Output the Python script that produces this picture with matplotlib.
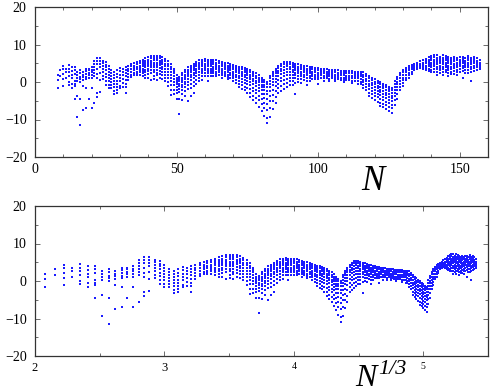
import numpy as np
import matplotlib
matplotlib.use("Agg")
import matplotlib.pyplot as plt
from matplotlib.ticker import MultipleLocator

# ---- data: per neutron number N, the values read in that column ----
N_cols = list(range(8, 158))
E_cols = [
    [1.8, 0.5, -1.6],                                   # 8
    [3.3, 1.6],                                          # 9
    [4.4, 3.6, 2.2, 0.8, -1.1],                          # 10
    [3.6, 2.8, 1.2],                                     # 11
    [4.5, 3.6, 2.6, 1.7, 0.1, -0.9],                     # 12
    [3.9, 2.9, 1.9, 1.0, -0.5, -1.6],                    # 13
    [4.0, 3.2, 2.2, 0.3, -0.6, -1.1, -4.4],              # 14
    [2.8, 2.0, 1.0, 0.2, -3.7, -9.3],                    # 15
    [3.1, 2.4, 1.4, 0.7, 0.1, -4.4, -11.5],              # 16
    [2.8, 2.0, 1.3, 0.6, -1.0, -7.4],                    # 17
    [3.6, 2.9, 2.2, 1.4, 0.9, -1.6, -6.8],               # 18
    [3.6, 3.1, 2.5, 1.8, 1.0, -4.6],                     # 19
    [3.9, 3.3, 2.7, 1.9, 1.2, -1.5, -6.9],               # 20
    [5.5, 4.7, 4.0, 3.2, 2.4, 1.7, -5.6],                # 21
    [6.4, 5.6, 4.7, 3.5, 2.1, 1.0, -2.8, -4.0],          # 22
    [6.4, 5.6, 4.8, 4.0, 2.4, 0.5, -2.6],                # 23
    [5.7, 5.2, 4.4, 3.5, 2.6, 1.5, 0.8],                 # 24
    [5.3, 4.6, 3.9, 3.1, 2.2, 1.3, 0.3, -0.9],           # 25
    [4.3, 3.6, 2.8, 1.8, 1.0, 0.2, -0.9, -1.6],          # 26
    [3.1, 2.3, 1.5, 0.9, 0.1, -0.7, -1.5],               # 27
    [2.7, 1.9, 1.2, 0.4, -0.6, -1.4, -2.3, -3.1],        # 28
    [3.1, 2.2, 1.4, 0.4, -0.4, -1.2, -2.0, -2.9],        # 29
    [3.7, 2.9, 2.0, 1.2, 0.3, -1.0, -1.5],               # 30
    [3.6, 2.8, 1.8, 0.8, -0.2, -1.4],                    # 31
    [4.0, 3.2, 2.5, 1.6, 0.5, -0.5, -1.2, -2.8],         # 32
    [4.3, 3.6, 2.9, 2.2, 1.4, 0.6],                      # 33
    [4.9, 4.2, 3.5, 2.8, 2.0, 1.3],                      # 34
    [5.1, 4.4, 3.8, 3.2, 2.5, 1.8],                      # 35
    [5.3, 4.7, 4.0, 3.4, 2.8, 2.2, 1.8],                 # 36
    [5.6, 5.0, 4.4, 3.8, 3.2, 2.6, 2.0],                 # 37
    [6.0, 5.4, 4.8, 4.2, 3.6, 3.0, 2.4, 1.6],            # 38
    [6.3, 5.7, 5.1, 4.5, 3.9, 3.3, 2.7, 2.0, 1.2],       # 39
    [6.6, 6.0, 5.4, 4.8, 4.2, 3.6, 3.0, 2.2, 1.0],       # 40
    [6.9, 6.3, 5.7, 5.1, 4.5, 3.9, 3.2, 2.4, 0.5],       # 41
    [7.0, 6.4, 5.8, 5.2, 4.6, 4.0, 3.3, 2.6, 1.6, 0.9],  # 42
    [7.0, 6.4, 5.8, 5.2, 4.6, 4.0, 3.3, 2.5, 1.8, 0.6],  # 43
    [6.9, 6.3, 5.7, 5.1, 4.5, 3.8, 3.0, 2.2, 1.2],       # 44
    [6.6, 6.0, 5.4, 4.8, 4.1, 3.4, 2.6, 1.8, 0.8],       # 45
    [6.1, 5.5, 4.9, 4.2, 3.5, 2.8, 2.0, 1.2, 0.2],       # 46
    [5.5, 4.9, 4.2, 3.5, 2.7, 1.9, 1.0, 0.0, -1.0],      # 47
    [4.7, 4.1, 3.4, 2.7, 1.9, 1.1, 0.2, -0.8, -2.0, -3.4],  # 48
    [3.6, 3.0, 2.3, 1.6, 0.8, 0.0, -0.9, -2.2, -3.3],    # 49
    [1.8, 1.2, 0.6, 0.0, -0.6, -1.3, -2.0, -3.0, -4.4],  # 50
    [1.4, 0.8, 0.2, -0.4, -1.1, -1.9, -2.6, -4.6, -8.4], # 51
    [2.4, 1.8, 1.2, 0.6, 0.0, -0.7, -1.4, -2.2, -3.2, -4.8],  # 52
    [3.2, 2.6, 2.0, 1.4, 0.8, 0.1, -0.6, -1.4, -2.4, -3.6],   # 53
    [3.9, 3.3, 2.7, 2.1, 1.5, 0.8, 0.0, -0.9, -1.9, -5.0],    # 54
    [4.4, 3.8, 3.2, 2.6, 2.0, 1.3, 0.5, -0.4, -1.6, -3.8],    # 55
    [4.9, 4.3, 3.7, 3.1, 2.5, 1.8, 1.0, 0.1, -1.0, -2.8],     # 56
    [5.4, 4.8, 4.2, 3.6, 3.0, 2.3, 1.5, 0.6, -0.5],      # 57
    [5.8, 5.2, 4.6, 4.0, 3.4, 2.7, 2.0, 1.2, 0.2],       # 58
    [6.0, 5.4, 4.8, 4.2, 3.6, 3.0, 2.3, 1.5, 0.5],       # 59
    [6.1, 5.5, 4.9, 4.3, 3.7, 3.1, 2.4, 1.6],            # 60
    [6.0, 5.4, 4.8, 4.2, 3.6, 3.0, 2.3, 1.5, 0.4],       # 61
    [6.0, 5.4, 4.8, 4.2, 3.6, 3.0, 2.4, 1.7],            # 62
    [5.9, 5.3, 4.7, 4.1, 3.5, 2.9, 2.3, 1.6],            # 63
    [5.8, 5.2, 4.6, 4.0, 3.4, 2.8, 2.2, 1.6],            # 64
    [5.6, 5.0, 4.4, 3.8, 3.2, 2.6, 2.0],                 # 65
    [5.4, 4.8, 4.2, 3.6, 3.0, 2.4, 1.8, 1.2],            # 66
    [5.2, 4.6, 4.0, 3.4, 2.8, 2.2, 1.6],                 # 67
    [5.0, 4.4, 3.8, 3.2, 2.6, 2.0, 1.4, 0.8],            # 68
    [4.9, 4.3, 3.7, 3.1, 2.5, 1.9, 1.2],                 # 69
    [4.6, 4.0, 3.4, 2.8, 2.2, 1.6, 1.0, 0.2],            # 70
    [4.4, 3.8, 3.2, 2.6, 2.0, 1.3, 0.6, -0.2],           # 71
    [4.1, 3.5, 2.9, 2.3, 1.7, 1.0, 0.3, -0.6, -1.2],     # 72
    [4.0, 3.4, 2.8, 2.2, 1.5, 0.8, 0.0, -0.9, -1.8],     # 73
    [3.8, 3.2, 2.6, 2.0, 1.3, 0.6, -0.2, -1.2, -2.2],    # 74
    [3.6, 3.0, 2.4, 1.8, 1.1, 0.4, -0.5, -1.5, -2.8],    # 75
    [3.2, 2.6, 2.0, 1.4, 0.7, 0.0, -0.8, -1.8, -3.0, -3.9],   # 76
    [2.8, 2.2, 1.6, 0.9, 0.2, -0.6, -1.5, -2.5, -3.6, -4.8],  # 77
    [2.3, 1.7, 1.1, 0.4, -0.3, -1.1, -2.0, -3.0, -4.2, -5.6], # 78
    [1.8, 1.2, 0.6, -0.1, -0.8, -1.6, -2.5, -3.6, -4.9, -6.6],# 79
    [1.2, 0.6, 0.0, -0.7, -1.4, -2.2, -3.2, -4.4, -5.8, -7.6],# 80
    [0.6, 0.0, -0.7, -1.4, -2.2, -3.1, -4.2, -5.5, -7.0, -9.0],   # 81
    [0.1, -0.6, -1.4, -2.3, -3.3, -4.5, -5.9, -7.5, -9.5, -11.0], # 82
    [1.6, 1.0, 0.3, -0.5, -1.4, -2.4, -3.6, -5.0, -6.8, -9.2],    # 83
    [2.8, 2.2, 1.5, 0.8, 0.0, -0.9, -2.0, -3.4, -5.0, -7.2],      # 84
    [3.6, 3.0, 2.3, 1.6, 0.8, -0.1, -1.1, -2.4, -4.0, -5.6],      # 85
    [4.3, 3.7, 3.0, 2.3, 1.5, 0.6, -0.4, -1.6, -3.0],    # 86
    [4.9, 4.3, 3.6, 2.9, 2.1, 1.2, 0.2, -1.0, -2.4],     # 87
    [5.3, 4.7, 4.0, 3.3, 2.5, 1.6, 0.6, -0.5, -1.8],     # 88
    [5.4, 4.8, 4.2, 3.5, 2.7, 1.8, 0.8, -0.2, -1.3],     # 89
    [5.3, 4.7, 4.1, 3.5, 2.8, 2.0, 1.1, 0.2, -0.9],      # 90
    [5.1, 4.5, 3.9, 3.3, 2.6, 1.9, 1.1, 0.2, -0.8],      # 91
    [4.9, 4.3, 3.7, 3.1, 2.5, 1.8, 1.0, -0.2, -3.2],     # 92
    [4.7, 4.1, 3.5, 2.9, 2.3, 1.6, 0.9, -0.1],           # 93
    [4.6, 4.0, 3.4, 2.8, 2.2, 1.5, 0.7, -0.3],           # 94
    [4.4, 3.8, 3.2, 2.6, 2.0, 1.3, 0.5],                 # 95
    [4.2, 3.6, 3.0, 2.4, 1.8, 1.2, 0.4, -0.8],           # 96
    [4.1, 3.5, 2.9, 2.3, 1.7, 1.0, 0.2],                 # 97
    [4.0, 3.4, 2.8, 2.2, 1.6, 0.9],                      # 98
    [3.8, 3.2, 2.6, 2.0, 1.4, 0.8],                      # 99
    [3.7, 3.1, 2.5, 1.9, 1.3, 0.7, -0.4],                # 100
    [3.6, 3.0, 2.4, 1.8, 1.2],                           # 101
    [3.5, 2.9, 2.3, 1.7, 1.1, 0.4],                      # 102
    [3.4, 2.8, 2.2, 1.6, 1.0],                           # 103
    [3.3, 2.7, 2.1, 1.5, 0.9, 0.2],                      # 104
    [3.3, 2.7, 2.1, 1.5, 1.0],                           # 105
    [3.2, 2.6, 2.0, 1.4, 0.8, 0.2],                      # 106
    [3.1, 2.5, 1.9, 1.3, 0.7],                           # 107
    [3.0, 2.4, 1.8, 1.2, 0.6],                           # 108
    [3.0, 2.4, 1.8, 1.2, 0.6, 0.0],                      # 109
    [2.9, 2.3, 1.7, 1.1, 0.5],                           # 110
    [2.9, 2.3, 1.7, 1.1, 0.5],                           # 111
    [2.9, 2.3, 1.7, 1.1, 0.4, -0.2],                     # 112
    [2.8, 2.2, 1.6, 1.0, 0.3],                           # 113
    [2.8, 2.2, 1.6, 1.0, 0.3, -0.4],                     # 114
    [2.8, 2.2, 1.5, 0.8, 0.1, -0.6],                     # 115
    [2.6, 2.0, 1.3, 0.6, -0.1, -0.9, -1.6],              # 116
    [2.2, 1.6, 0.9, 0.2, -0.5, -1.3, -2.1],              # 117
    [1.6, 1.0, 0.3, -0.4, -1.1, -1.9, -2.8, -3.6],       # 118
    [1.1, 0.5, -0.2, -0.9, -1.6, -2.4, -3.3, -4.3],      # 119
    [0.7, 0.1, -0.6, -1.3, -2.0, -2.8, -3.7, -4.7],      # 120
    [0.3, -0.3, -1.0, -1.7, -2.4, -3.2, -4.1, -5.2],     # 121
    [0.0, -0.6, -1.3, -2.0, -2.7, -3.5, -4.4, -5.5, -6.3],   # 122
    [-0.4, -1.0, -1.7, -2.4, -3.1, -3.9, -4.8, -5.8, -6.6],  # 123
    [-0.8, -1.4, -2.1, -2.8, -3.5, -4.3, -5.2, -6.2, -7.3],  # 124
    [-1.2, -1.8, -2.5, -3.2, -3.9, -4.7, -5.6, -6.6, -7.7],  # 125
    [-1.6, -2.2, -2.9, -3.6, -4.3, -5.1, -6.0, -7.0, -8.2],  # 126
    [0.2, -0.5, -1.2, -2.0, -2.8, -3.7, -4.7, -6.0],     # 127
    [1.4, 0.8, 0.1, -0.6, -1.4, -2.2, -3.2, -4.4],       # 128
    [2.4, 1.8, 1.1, 0.4, -0.4, -1.2, -2.2],              # 129
    [3.2, 2.6, 1.9, 1.2, 0.5, -0.3, -1.1],               # 130
    [3.8, 3.2, 2.6, 1.9, 1.2, 0.5],                      # 131
    [4.3, 3.7, 3.1, 2.5, 1.8, 1.1],                      # 132
    [4.6, 4.0, 3.4, 2.8, 2.2],                           # 133
    [4.9, 4.3, 3.7, 3.1],                                # 134
    [5.2, 4.6, 4.0, 3.4],                                # 135
    [5.5, 4.9, 4.3, 3.7],                                # 136
    [5.8, 5.2, 4.6, 4.0, 3.4],                           # 137
    [6.2, 5.6, 5.0, 4.4, 3.8, 3.2],                      # 138
    [6.6, 6.0, 5.4, 4.8, 4.2, 3.6, 3.0],                 # 139
    [7.0, 6.4, 5.8, 5.2, 4.6, 4.0, 3.3, 2.6],            # 140
    [7.2, 6.6, 6.0, 5.4, 4.8, 4.2, 3.5, 2.8],            # 141
    [7.1, 6.5, 5.9, 5.3, 4.7, 4.1, 3.4, 2.6, 1.8],       # 142
    [6.8, 6.2, 5.6, 5.0, 4.4, 3.8, 3.2, 2.5],            # 143
    [7.1, 6.5, 5.9, 5.3, 4.7, 4.1, 3.5, 2.8, 2.0],       # 144
    [7.0, 6.4, 5.8, 5.2, 4.6, 4.0, 3.3, 2.6],            # 145
    [6.8, 6.2, 5.6, 5.0, 4.4, 3.8, 3.2, 2.4, 1.6],       # 146
    [6.5, 5.9, 5.3, 4.7, 4.1, 3.5, 2.8, 2.1],            # 147
    [6.7, 6.1, 5.5, 4.9, 4.3, 3.7, 3.0, 2.2],            # 148
    [6.4, 5.8, 5.2, 4.6, 4.0, 3.3, 2.6, 1.8],            # 149
    [6.6, 6.0, 5.4, 4.8, 4.2, 3.5, 2.8],                 # 150
    [6.8, 6.2, 5.6, 5.0, 4.4, 3.7, 3.0, 1.2],            # 151
    [6.3, 5.7, 5.1, 4.5, 3.9, 3.2, 2.5],                 # 152
    [7.0, 6.4, 5.8, 5.2, 4.6, 3.9, 3.2, 2.4],            # 153
    [6.5, 5.9, 5.3, 4.7, 4.1, 3.4, 2.7, 0.4],            # 154
    [6.8, 6.2, 5.6, 5.0, 4.4, 3.7, 3.0],                 # 155
    [6.3, 5.7, 5.1, 4.5, 3.9, 3.2],                      # 156
    [5.8, 5.2, 4.6, 4.0, 3.4],                           # 157
]

top_xticks = [0, 50, 100, 150]
bot_xticks = [2, 3, 4, 5]
yticks = [-20, -10, 0, 10, 20]

N_all = np.concatenate([[n] * len(e) for n, e in zip(N_cols, E_cols)]).astype(float)
E_all = np.concatenate([np.asarray(e, float) for e in E_cols])
X_cbrt = np.cbrt(N_all + 1.0)

plt.rcParams['font.family'] = ['Liberation Serif', 'DejaVu Serif']

W, H = 491, 392
fig = plt.figure(figsize=(W / 100, H / 100), dpi=100)

def axes_px(l, t, r, b):
    return fig.add_axes([l / W, 1 - b / H, (r - l) / W, (b - t) / H])

ax1 = axes_px(35, 7, 488, 157)
ax2 = axes_px(35, 206, 488, 356)

mk = dict(marker='s', linestyle='none', markersize=1.45, markeredgewidth=0,
          color='#1a1aff')
ax1.plot(N_all, E_all, **mk)
ax2.plot(X_cbrt, E_all, **mk)

ax1.set_xlim(0, 160)
ax2.set_xlim(2, 5.5)
for ax in (ax1, ax2):
    ax.set_ylim(-20, 20)
    ax.set_yticks(yticks)
    ax.set_yticklabels(['\u221220', '\u221210', '0', '10', '20'])
    ax.yaxis.set_minor_locator(MultipleLocator(5))
    ax.tick_params(which='both', direction='in', top=True, right=True,
                   labelsize=10, colors='#555555', labelcolor='black', width=0.6)
    ax.tick_params(which='major', length=3.5)
    ax.tick_params(which='minor', length=2)
    ax.tick_params(axis='y', pad=6)
    for s in ax.spines.values():
        s.set_color('#333333')
        s.set_linewidth(0.9)

ax1.set_xticks(top_xticks)
ax1.xaxis.set_minor_locator(MultipleLocator(10))
ax1.tick_params(axis='x', pad=4)

ax2.set_xticks(bot_xticks)
ax2.set_xticklabels([str(t) for t in bot_xticks])
ax2.xaxis.set_minor_locator(MultipleLocator(0.5))
ax2.tick_params(axis='x', pad=4)
for lab, sz in zip(ax2.get_xticklabels(), [9, 9, 7, 7]):
    lab.set_fontsize(sz)

fig.text(373 / W, 1 - 181 / H, 'N', fontsize=25, fontstyle='italic',
         ha='center', va='center')
fig.text(355 / W, 1 - 386 / H, 'N', fontsize=23, fontstyle='italic',
         ha='left', va='baseline')
fig.text(378 / W, 1 - 374 / H, '1/3', fontsize=16, fontstyle='italic',
         ha='left', va='baseline')

fig.savefig('out.png', dpi=100)
